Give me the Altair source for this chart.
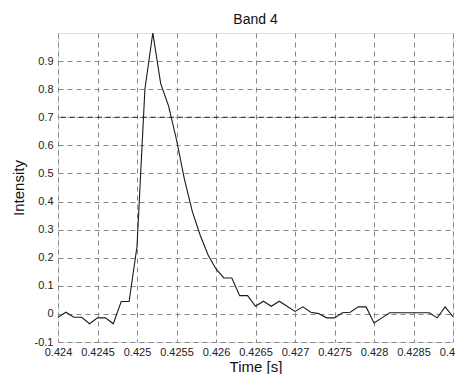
import altair as alt
import pandas as pd

time_s = [0.4240, 0.4241, 0.4242, 0.4243, 0.4244, 0.4245, 0.4246, 0.4247, 0.4248, 0.4249,
          0.4250, 0.4251, 0.4252, 0.4253, 0.4254, 0.4255, 0.4256, 0.4257, 0.4258, 0.4259,
          0.4260, 0.4261, 0.4262, 0.4263, 0.4264, 0.4265, 0.4266, 0.4267, 0.4268, 0.4269,
          0.4270, 0.4271, 0.4272, 0.4273, 0.4274, 0.4275, 0.4276, 0.4277, 0.4278, 0.4279,
          0.4280, 0.4281, 0.4282, 0.4283, 0.4284, 0.4285, 0.4286, 0.4287, 0.4288, 0.4289,
          0.4290]
intensity = [-0.012, 0.006, -0.012, -0.012, -0.035, -0.014, -0.014, -0.035, 0.044, 0.044,
             0.24, 0.80, 1.0, 0.82, 0.74, 0.62, 0.48, 0.365, 0.28, 0.21,
             0.16, 0.128, 0.128, 0.065, 0.065, 0.027, 0.045, 0.027, 0.045, 0.027,
             0.009, 0.025, 0.006, 0.001, -0.014, -0.014, 0.004, 0.006, 0.025, 0.025,
             -0.032, -0.014, 0.004, 0.004, 0.004, 0.004, 0.004, 0.004, -0.014, 0.025,
             -0.01]

x_ticks = [0.424, 0.4245, 0.425, 0.4255, 0.426, 0.4265, 0.427, 0.4275, 0.428, 0.4285, 0.429]
y_ticks = [-0.1, 0.0, 0.1, 0.2, 0.3, 0.4, 0.5, 0.6, 0.7, 0.8, 0.9]
dark_levels = [0.7]

df = pd.DataFrame({"t": time_s, "v": intensity})
df_dark = pd.DataFrame({"lvl": dark_levels})

FONT = "Liberation Sans"

xscale = alt.Scale(domain=[0.424, 0.429], nice=False, zero=False)
yscale = alt.Scale(domain=[-0.1, 1.0], nice=False, zero=False)

x_axis = alt.Axis(
    values=x_ticks,
    labelExpr="format(datum.value, '.4~f')",
    title="Time [s]",
    grid=True,
    gridDash=[5, 4],
    gridColor="#888888",
    gridWidth=1,
    ticks=False,
    domain=False,
    labelFont=FONT,
    labelFontSize=11,
    labelColor="#222222",
    labelPadding=4,
    labelFlush=False,
    labelOverlap=False,
    titleFont=FONT,
    titleFontSize=15,
    titleFontWeight="normal",
    titleColor="#111111",
    titlePadding=2,
)
y_axis = alt.Axis(
    values=y_ticks,
    labelExpr="datum.value == 0 ? '0' : replace(format(datum.value, '.1f'), '\u2212', '-')",
    title="Intensity",
    grid=True,
    gridDash=[5, 4],
    gridColor="#888888",
    gridWidth=1,
    ticks=False,
    domain=False,
    labelFont=FONT,
    labelFontSize=11,
    labelColor="#222222",
    labelPadding=5,
    labelFlush=False,
    labelOverlap=False,
    titleFont=FONT,
    titleFontSize=15,
    titleFontWeight="normal",
    titleColor="#111111",
    titlePadding=8,
)

line = alt.Chart(df).mark_line(color="#1a1a1a", strokeWidth=1.1, clip=True).encode(
    x=alt.X("t:Q", scale=xscale, axis=x_axis),
    y=alt.Y("v:Q", scale=yscale, axis=y_axis),
)

dark = alt.Chart(df_dark).mark_rule(color="#222222", strokeDash=[5, 4], strokeWidth=1).encode(
    y=alt.Y("lvl:Q", scale=yscale, axis=y_axis),
)

chart = alt.layer(line, dark).properties(
    width=395,
    height=309,
    title=alt.TitleParams("Band 4", font=FONT, fontSize=14, fontWeight="normal",
                          color="#111111", offset=6),
    autosize=alt.AutoSizeParams(type="none"),
    padding={"left": 50, "top": 25, "right": 2, "bottom": 32},
).configure_view(
    stroke="#000000",
    strokeWidth=1,
).configure_axis(
    labelOverlap=False,
).configure(background="white")

chart.save("out.html", embed_options={"renderer": "svg", "actions": False})
